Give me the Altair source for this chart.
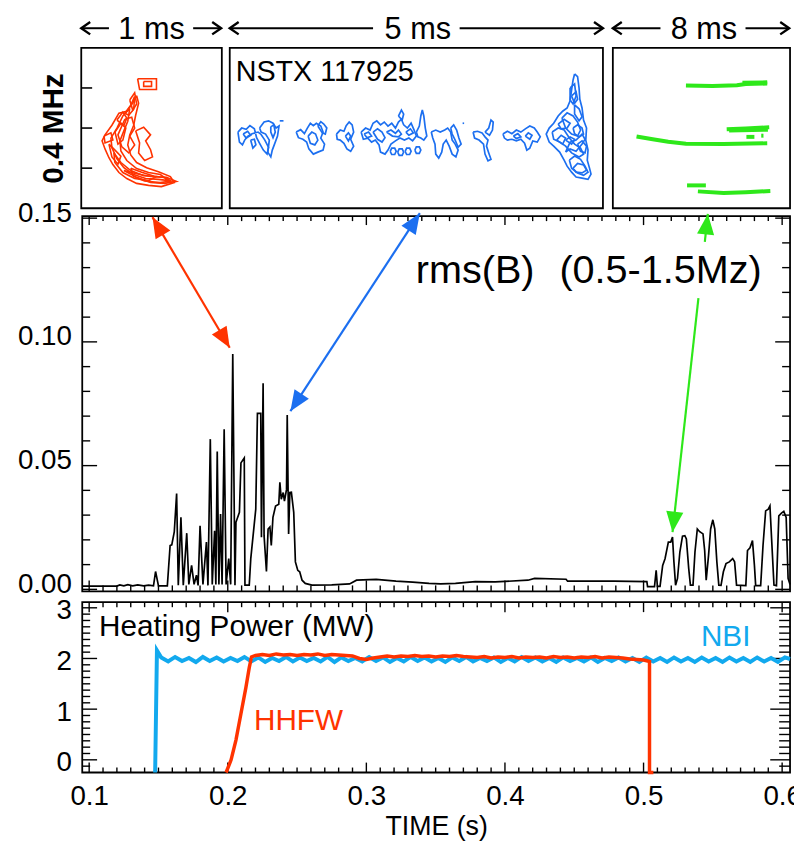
import math
import altair as alt
import pandas as pd

FONT = "Liberation Sans"
RED = "#ff3300"
BLUE = "#1c6ff0"
CYAN = "#12a9ee"
GREEN = "#2ee81a"

# ---------------- rms(B) trace (time s, value) ----------------
RMS_T = [0.0950, 0.1200, 0.1221, 0.1250, 0.1279, 0.1314, 0.1350, 0.1393, 0.1429, 0.1464,
         0.1479, 0.1500, 0.1564, 0.1584, 0.1596, 0.1614, 0.1631, 0.1643, 0.1662, 0.1679,
         0.1704, 0.1719, 0.1739, 0.1757, 0.1774, 0.1786, 0.1800, 0.1821, 0.1846, 0.1857,
         0.1874, 0.1888, 0.1905, 0.1914, 0.1924, 0.1936, 0.1948, 0.1959, 0.1974, 0.1988,
         0.2007, 0.2021, 0.2036, 0.2052, 0.2059, 0.2084, 0.2095, 0.2119, 0.2124, 0.2155,
         0.2166, 0.2202, 0.2214, 0.2238, 0.2243, 0.2255, 0.2262, 0.2279, 0.2291, 0.2304,
         0.2314, 0.2326, 0.2345, 0.2368, 0.2376, 0.2386, 0.2400, 0.2409, 0.2424, 0.2429,
         0.2439, 0.2448, 0.2459, 0.2476, 0.2488, 0.2505, 0.2519, 0.2536, 0.2559, 0.2607,
         0.2750, 0.2879, 0.2929, 0.3071, 0.3214, 0.3334, 0.3452, 0.3536, 0.3643, 0.3786,
         0.3929, 0.4166, 0.4214, 0.4441, 0.4452, 0.4786, 0.5024, 0.5029, 0.5079, 0.5091,
         0.5100, 0.5119, 0.5138, 0.5155, 0.5179, 0.5196, 0.5209, 0.5219, 0.5231, 0.5245,
         0.5262, 0.5281, 0.5298, 0.5309, 0.5326, 0.5338, 0.5357, 0.5371, 0.5388, 0.5405,
         0.5429, 0.5441, 0.5452, 0.5469, 0.5484, 0.5500, 0.5514, 0.5529, 0.5543, 0.5559,
         0.5576, 0.5595, 0.5619, 0.5643, 0.5657, 0.5671, 0.5738, 0.5750, 0.5768, 0.5786,
         0.5800, 0.5809, 0.5845, 0.5862, 0.5881, 0.5900, 0.5912, 0.5924, 0.5941, 0.5959,
         0.5976, 0.5995, 0.6012, 0.6029, 0.6043, 0.6057]
RMS_V = [0.0013, 0.0013, 0.0018, 0.0014, 0.0019, 0.0014, 0.0018, 0.0014, 0.0017, 0.0014,
         0.0072, 0.0014, 0.0014, 0.0177, 0.0180, 0.0232, 0.0387, 0.0017, 0.0291, 0.0017,
         0.0227, 0.0020, 0.0097, 0.0020, 0.0057, 0.0016, 0.0257, 0.0020, 0.0191, 0.0016,
         0.0607, 0.0020, 0.0237, 0.0020, 0.0557, 0.0020, 0.0304, 0.0020, 0.0647, 0.0020,
         0.0124, 0.0020, 0.0951, 0.0017, 0.0271, 0.0311, 0.0511, 0.0531, 0.0017, 0.0017,
         0.0124, 0.0324, 0.0711, 0.0711, 0.0211, 0.0833, 0.0217, 0.0072, 0.0244, 0.0252,
         0.0177, 0.0291, 0.0337, 0.0344, 0.0433, 0.0364, 0.0391, 0.0357, 0.0404, 0.0704,
         0.0224, 0.0391, 0.0392, 0.0311, 0.0111, 0.0077, 0.0071, 0.0037, 0.0024, 0.0017,
         0.0018, 0.0022, 0.0037, 0.0040, 0.0033, 0.0029, 0.0024, 0.0022, 0.0024, 0.0031,
         0.0030, 0.0037, 0.0044, 0.0041, 0.0033, 0.0033, 0.0031, 0.0011, 0.0011, 0.0077,
         0.0012, 0.0012, 0.0097, 0.0124, 0.0191, 0.0191, 0.0211, 0.0112, 0.0017, 0.0044,
         0.0151, 0.0215, 0.0217, 0.0204, 0.0084, 0.0017, 0.0017, 0.0151, 0.0244, 0.0233,
         0.0224, 0.0157, 0.0037, 0.0137, 0.0244, 0.0281, 0.0244, 0.0111, 0.0017, 0.0016,
         0.0071, 0.0104, 0.0111, 0.0124, 0.0111, 0.0017, 0.0015, 0.0157, 0.0168, 0.0197,
         0.0097, 0.0015, 0.0015, 0.0177, 0.0317, 0.0324, 0.0337, 0.0204, 0.0017, 0.0015,
         0.0297, 0.0308, 0.0315, 0.0291, 0.0044, 0.0020]

# ---------------- heating power (MW) ----------------
NBI_T = [0.1476, 0.1489,
         0.152, 0.157, 0.162, 0.167, 0.172, 0.177, 0.182, 0.187, 0.192, 0.197,
         0.202, 0.207, 0.212, 0.217, 0.222, 0.227, 0.232, 0.237, 0.242, 0.247,
         0.252, 0.257, 0.262, 0.267, 0.272, 0.277, 0.282, 0.287, 0.292, 0.297,
         0.302, 0.307, 0.312, 0.317, 0.322, 0.327, 0.332, 0.337, 0.342, 0.347,
         0.352, 0.357, 0.362, 0.367, 0.372, 0.377, 0.382, 0.387, 0.392, 0.397,
         0.402, 0.407, 0.412, 0.417, 0.422, 0.427, 0.432, 0.437, 0.442, 0.447,
         0.452, 0.457, 0.462, 0.467, 0.472, 0.477, 0.482, 0.487, 0.492, 0.497,
         0.502, 0.507, 0.512, 0.517, 0.522, 0.527, 0.532, 0.537, 0.542, 0.547,
         0.552, 0.557, 0.562, 0.567, 0.572, 0.577, 0.582, 0.587, 0.592, 0.597,
         0.602, 0.6057]
NBI_P = [-0.25, 2.16,
         2.02, 1.94, 2.03, 1.95, 2.01, 1.93, 2.03, 1.95, 2.02, 1.94,
         2.01, 1.95, 2.03, 1.94, 2.02, 1.93, 2.01, 1.95, 2.03, 1.94,
         2.02, 1.95, 2.01, 1.94, 2.03, 1.93, 2.02, 1.95, 2.01, 1.94,
         2.03, 1.95, 2.02, 1.93, 2.01, 1.94, 2.03, 1.95, 2.02, 1.94,
         2.01, 1.93, 2.02, 1.95, 2.03, 1.94, 2.01, 1.95, 2.02, 1.93,
         2.01, 1.94, 2.03, 1.95, 2.02, 1.94, 2.01, 1.93, 2.02, 1.95,
         2.01, 1.94, 2.02, 1.93, 2.01, 1.95, 2.02, 1.94, 2.01, 1.93,
         2.02, 1.94, 2.01, 1.93, 2.02, 1.94, 2.01, 1.93, 2.02, 1.94,
         2.01, 1.93, 2.02, 1.94, 2.01, 1.93, 2.02, 1.94, 2.01, 1.93,
         2.02, 1.99]
HHFW_T = [0.1988, 0.2024, 0.2059, 0.2095, 0.2131, 0.2155, 0.2171,
          0.220, 0.225, 0.230, 0.235, 0.240, 0.245, 0.250, 0.255, 0.260, 0.265,
          0.270, 0.275, 0.280, 0.285, 0.290, 0.295, 0.300, 0.305, 0.310, 0.315,
          0.320, 0.325, 0.330, 0.335, 0.340, 0.345, 0.350, 0.355, 0.360, 0.365,
          0.370, 0.375, 0.380, 0.385, 0.390, 0.395, 0.400, 0.405, 0.410, 0.415,
          0.420, 0.425, 0.430, 0.435, 0.440, 0.445, 0.450, 0.455, 0.460, 0.465,
          0.470, 0.475, 0.480, 0.485, 0.490, 0.495, 0.500,
          0.5030, 0.5043, 0.5043, 0.5071]
HHFW_P = [-0.25, 0.00, 0.39, 0.91, 1.43, 1.82, 2.03,
          2.06, 2.08, 2.06, 2.09, 2.07, 2.08, 2.06, 2.08, 2.07, 2.09,
          2.06, 2.08, 2.07, 2.06, 2.05, 2.00, 1.98, 2.01, 2.03, 2.05,
          2.03, 2.05, 2.04, 2.06, 2.04, 2.05, 2.03, 2.05, 2.04, 2.06,
          2.04, 2.03, 2.02, 2.04, 2.01, 2.03, 2.02, 2.04, 2.01, 2.03,
          2.02, 2.03, 2.01, 2.04, 2.02, 2.03, 2.01, 2.03, 2.02, 2.04,
          2.01, 2.03, 2.02, 2.01, 1.99, 1.98, 1.97,
          1.95, 1.94, -0.25, -0.25]

# ---------------- spectrogram contours (ms in window, MHz) ----------------
RED_LOOPS = [
    [(0.394, 0.881), (0.366, 0.862), (0.324, 0.842), (0.268, 0.837), (0.218, 0.807), (0.169, 0.783),
     (0.148, 0.768), (0.169, 0.748), (0.197, 0.726), (0.225, 0.709), (0.268, 0.689), (0.324, 0.674),
     (0.394, 0.662), (0.479, 0.657), (0.570, 0.654), (0.662, 0.664), (0.634, 0.679), (0.549, 0.691),
     (0.465, 0.701), (0.394, 0.714), (0.352, 0.733), (0.331, 0.758), (0.345, 0.783), (0.373, 0.807),
     (0.387, 0.832), (0.408, 0.862), (0.394, 0.881)],
    [(0.345, 0.849), (0.296, 0.830), (0.254, 0.800), (0.211, 0.775), (0.218, 0.751), (0.254, 0.723),
     (0.303, 0.701), (0.373, 0.684), (0.458, 0.674), (0.549, 0.672), (0.620, 0.669), (0.563, 0.684),
     (0.479, 0.689), (0.394, 0.699), (0.324, 0.719), (0.282, 0.743), (0.275, 0.768), (0.303, 0.793),
     (0.331, 0.817), (0.345, 0.849)],
    [(0.387, 0.793), (0.444, 0.802), (0.493, 0.783), (0.458, 0.768), (0.493, 0.746), (0.507, 0.728),
     (0.451, 0.719), (0.408, 0.738), (0.415, 0.763), (0.387, 0.793)],
    [(0.310, 0.822), (0.359, 0.827), (0.380, 0.800), (0.345, 0.780), (0.380, 0.758), (0.338, 0.738),
     (0.289, 0.753), (0.261, 0.783), (0.310, 0.822)],
    [(0.303, 0.694), (0.394, 0.677), (0.493, 0.664), (0.592, 0.662), (0.676, 0.667), (0.606, 0.677),
     (0.493, 0.679), (0.394, 0.686), (0.303, 0.694)],
    [(0.401, 0.923), (0.535, 0.923), (0.535, 0.896), (0.415, 0.896), (0.401, 0.923)],
    [(0.444, 0.916), (0.500, 0.916), (0.500, 0.904), (0.444, 0.904), (0.444, 0.916)],
    [(0.162, 0.780), (0.211, 0.788), (0.225, 0.770), (0.169, 0.763), (0.162, 0.780)],
    [(0.380, 0.879), (0.352, 0.857), (0.310, 0.837), (0.338, 0.832), (0.373, 0.847), (0.380, 0.879)],
    [(0.232, 0.738), (0.282, 0.714), (0.352, 0.694), (0.444, 0.681), (0.535, 0.679), (0.479, 0.669),
     (0.380, 0.674), (0.296, 0.689), (0.239, 0.714), (0.232, 0.738)],
    [(0.240, 0.790), (0.282, 0.812), (0.317, 0.800), (0.296, 0.770), (0.261, 0.760), (0.240, 0.790)],
    [(0.197, 0.760), (0.240, 0.745), (0.282, 0.730), (0.261, 0.710), (0.218, 0.728), (0.197, 0.760)],
    [(0.352, 0.700), (0.430, 0.690), (0.520, 0.680), (0.600, 0.676), (0.640, 0.668), (0.560, 0.664),
     (0.450, 0.668), (0.370, 0.680), (0.352, 0.700)],
    [(0.345, 0.870), (0.380, 0.888), (0.394, 0.860), (0.366, 0.845), (0.345, 0.870)],
    [(0.254, 0.820), (0.296, 0.840), (0.324, 0.825), (0.303, 0.806), (0.254, 0.820)],
]
BLUE_LOOPS = [
    [(0.11, 0.790), (0.16, 0.800), (0.22, 0.797), (0.27, 0.806), (0.33, 0.798), (0.36, 0.776), (0.40, 0.762),
     (0.45, 0.745), (0.50, 0.735), (0.52, 0.752), (0.47, 0.770), (0.42, 0.784), (0.38, 0.790), (0.30, 0.786),
     (0.24, 0.779), (0.20, 0.770), (0.17, 0.758), (0.13, 0.765), (0.11, 0.790)],
    [(0.40, 0.800), (0.46, 0.815), (0.52, 0.818), (0.58, 0.812), (0.62, 0.800), (0.66, 0.805), (0.64, 0.780),
     (0.60, 0.760), (0.57, 0.745), (0.55, 0.728), (0.51, 0.740), (0.53, 0.770), (0.48, 0.785), (0.42, 0.790),
     (0.40, 0.800)],
    [(0.55, 0.803), (0.59, 0.808), (0.61, 0.790), (0.58, 0.776), (0.55, 0.790), (0.55, 0.803)],
    [(0.67, 0.818), (0.72, 0.818)],
    [(0.28, 0.770), (0.33, 0.772), (0.35, 0.758), (0.31, 0.750), (0.28, 0.770)],
    [(0.18, 0.785), (0.24, 0.792), (0.28, 0.782), (0.22, 0.775), (0.18, 0.785)],
    [(0.89, 0.790), (0.95, 0.796), (1.00, 0.786), (1.04, 0.800), (1.08, 0.812), (1.12, 0.806), (1.16, 0.812),
     (1.22, 0.805), (1.25, 0.790), (1.22, 0.775), (1.27, 0.760), (1.25, 0.745), (1.18, 0.740), (1.12, 0.735),
     (1.06, 0.748), (1.03, 0.765), (0.98, 0.772), (0.92, 0.776), (0.89, 0.790)],
    [(1.05, 0.780), (1.10, 0.790), (1.15, 0.785), (1.18, 0.770), (1.14, 0.758), (1.08, 0.762), (1.05, 0.780)],
    [(1.18, 0.805), (1.22, 0.816), (1.26, 0.810), (1.30, 0.800), (1.28, 0.785), (1.24, 0.788), (1.18, 0.805)],
    [(1.43, 0.785), (1.48, 0.795), (1.53, 0.792), (1.56, 0.806), (1.60, 0.815), (1.64, 0.808), (1.66, 0.790),
     (1.62, 0.772), (1.66, 0.755), (1.62, 0.742), (1.57, 0.748), (1.53, 0.762), (1.48, 0.770), (1.44, 0.772),
     (1.43, 0.785)],
    [(1.55, 0.780), (1.59, 0.788), (1.62, 0.780), (1.59, 0.768), (1.55, 0.780)],
    [(1.76, 0.790), (1.82, 0.800), (1.88, 0.795), (1.92, 0.812), (1.97, 0.818), (2.02, 0.808), (2.07, 0.815),
     (2.12, 0.805), (2.17, 0.812), (2.22, 0.800), (2.26, 0.815), (2.30, 0.822), (2.33, 0.808), (2.38, 0.800),
     (2.43, 0.812), (2.47, 0.795), (2.50, 0.780), (2.45, 0.768), (2.40, 0.775), (2.34, 0.770), (2.28, 0.775),
     (2.22, 0.768), (2.16, 0.760), (2.12, 0.745), (2.08, 0.735), (2.02, 0.740), (2.00, 0.758), (1.95, 0.770),
     (1.90, 0.765), (1.85, 0.775), (1.79, 0.772), (1.76, 0.790)],
    [(1.92, 0.790), (1.98, 0.798), (2.04, 0.790), (2.08, 0.776), (2.04, 0.765), (1.98, 0.772), (1.92, 0.790)],
    [(2.10, 0.790), (2.16, 0.795), (2.22, 0.787), (2.26, 0.795), (2.30, 0.785), (2.26, 0.778), (2.18, 0.780),
     (2.10, 0.790)],
    [(1.80, 0.785), (1.86, 0.790), (1.90, 0.780), (1.84, 0.776), (1.80, 0.785)],
    [(2.36, 0.790), (2.42, 0.798), (2.46, 0.788), (2.40, 0.782), (2.36, 0.790)],
    [(2.26, 0.830), (2.30, 0.845), (2.33, 0.835), (2.31, 0.820), (2.26, 0.830)],
    [(2.15, 0.742), (2.17, 0.750), (2.21, 0.750), (2.23, 0.742), (2.21, 0.734), (2.17, 0.734), (2.15, 0.742)],
    [(2.25, 0.740), (2.27, 0.748), (2.31, 0.748), (2.33, 0.740), (2.31, 0.732), (2.27, 0.732), (2.25, 0.740)],
    [(2.35, 0.742), (2.37, 0.750), (2.41, 0.750), (2.43, 0.742), (2.41, 0.734), (2.37, 0.734), (2.35, 0.742)],
    [(2.48, 0.745), (2.50, 0.753), (2.54, 0.753), (2.56, 0.745), (2.54, 0.737), (2.50, 0.737), (2.48, 0.745)],
    [(2.50, 0.790), (2.54, 0.805), (2.56, 0.830), (2.58, 0.845), (2.60, 0.830), (2.62, 0.800), (2.64, 0.780),
     (2.60, 0.770), (2.56, 0.775), (2.52, 0.778), (2.50, 0.790)],
    [(3.12, 0.812), (3.14, 0.812)],
    [(2.70, 0.790), (2.76, 0.795), (2.82, 0.790), (2.88, 0.795), (2.92, 0.800), (2.96, 0.790), (2.98, 0.770),
     (3.02, 0.760), (3.06, 0.745), (3.03, 0.728), (2.98, 0.735), (2.94, 0.755), (2.90, 0.770), (2.86, 0.760),
     (2.84, 0.740), (2.80, 0.725), (2.76, 0.735), (2.75, 0.760), (2.72, 0.775), (2.70, 0.790)],
    [(2.96, 0.800), (3.00, 0.808), (3.04, 0.795), (3.07, 0.775), (3.10, 0.760), (3.06, 0.752), (3.02, 0.770),
     (2.98, 0.785), (2.96, 0.800)],
    [(3.26, 0.790), (3.32, 0.792), (3.38, 0.788), (3.42, 0.778), (3.46, 0.770), (3.44, 0.755), (3.47, 0.738),
     (3.50, 0.722), (3.46, 0.718), (3.42, 0.735), (3.40, 0.760), (3.34, 0.770), (3.28, 0.775), (3.26, 0.790)],
    [(3.42, 0.790), (3.47, 0.800), (3.50, 0.820), (3.53, 0.815), (3.52, 0.795), (3.48, 0.782), (3.42, 0.790)],
    [(3.66, 0.785), (3.72, 0.792), (3.78, 0.786), (3.84, 0.795), (3.90, 0.790), (3.96, 0.798), (4.02, 0.805),
     (4.08, 0.800), (4.12, 0.790), (4.16, 0.778), (4.12, 0.765), (4.06, 0.768), (4.02, 0.750), (3.98, 0.745),
     (3.95, 0.762), (3.90, 0.772), (3.84, 0.768), (3.78, 0.772), (3.72, 0.770), (3.68, 0.775), (3.66, 0.785)],
    [(3.96, 0.780), (4.00, 0.788), (4.05, 0.782), (4.02, 0.772), (3.96, 0.780)],
    [(3.80, 0.780), (3.86, 0.786), (3.90, 0.778), (3.84, 0.774), (3.80, 0.780)],
    [(4.62, 0.935), (4.66, 0.928), (4.68, 0.900), (4.69, 0.872), (4.72, 0.850), (4.74, 0.820), (4.78, 0.800),
     (4.77, 0.770), (4.80, 0.745), (4.79, 0.720), (4.82, 0.700), (4.84, 0.685), (4.80, 0.672), (4.72, 0.675),
     (4.64, 0.678), (4.58, 0.690), (4.52, 0.705), (4.48, 0.720), (4.42, 0.740), (4.34, 0.755), (4.28, 0.765),
     (4.24, 0.785), (4.28, 0.800), (4.34, 0.812), (4.40, 0.830), (4.46, 0.842), (4.52, 0.850), (4.56, 0.868),
     (4.58, 0.895), (4.60, 0.920), (4.62, 0.935)],
    [(4.56, 0.900), (4.62, 0.910), (4.64, 0.880), (4.60, 0.860), (4.56, 0.870), (4.56, 0.900)],
    [(4.45, 0.825), (4.52, 0.838), (4.60, 0.830), (4.66, 0.815), (4.70, 0.795), (4.66, 0.780), (4.58, 0.785),
     (4.50, 0.800), (4.45, 0.825)],
    [(4.32, 0.790), (4.40, 0.800), (4.48, 0.795), (4.55, 0.775), (4.62, 0.760), (4.70, 0.750), (4.74, 0.735),
     (4.68, 0.728), (4.58, 0.738), (4.50, 0.755), (4.42, 0.765), (4.34, 0.772), (4.32, 0.790)],
    [(4.55, 0.720), (4.62, 0.730), (4.70, 0.722), (4.76, 0.705), (4.80, 0.690), (4.74, 0.682), (4.66, 0.688),
     (4.58, 0.700), (4.55, 0.720)],
    [(4.38, 0.770), (4.44, 0.782), (4.50, 0.775), (4.46, 0.760), (4.38, 0.770)],
    [(4.62, 0.858), (4.68, 0.848), (4.72, 0.828), (4.68, 0.818), (4.62, 0.835), (4.62, 0.858)],
    [(4.50, 0.740), (4.56, 0.748), (4.64, 0.742), (4.72, 0.760), (4.76, 0.772), (4.72, 0.785), (4.64, 0.770),
     (4.56, 0.765), (4.50, 0.740)],
    [(4.40, 0.810), (4.48, 0.822), (4.56, 0.812), (4.52, 0.800), (4.44, 0.798), (4.40, 0.810)],
    [(4.60, 0.800), (4.66, 0.808), (4.72, 0.800), (4.74, 0.785), (4.68, 0.778), (4.62, 0.786), (4.60, 0.800)],
    [(4.60, 0.700), (4.66, 0.712), (4.74, 0.708), (4.78, 0.695), (4.72, 0.688), (4.64, 0.690), (4.60, 0.700)],
    [(4.66, 0.760), (4.72, 0.768), (4.78, 0.755), (4.76, 0.738), (4.70, 0.742), (4.66, 0.760)],
    [(4.58, 0.880), (4.64, 0.890), (4.66, 0.872), (4.62, 0.862), (4.58, 0.880)],
    [(4.50, 0.770), (4.56, 0.778), (4.62, 0.772), (4.58, 0.760), (4.50, 0.770)],
]
GREEN_STREAKS = [
    [(3.30, 0.906), (4.50, 0.905), (5.60, 0.907), (6.00, 0.910), (6.97, 0.911)],
    [(5.85, 0.913), (6.97, 0.914)],
    [(5.14, 0.797), (6.00, 0.799), (7.06, 0.802)],
    [(5.25, 0.794), (7.00, 0.796)],
    [(1.07, 0.779), (1.80, 0.772), (2.50, 0.766), (3.30, 0.761), (5.00, 0.760), (6.97, 0.762)],
    [(6.03, 0.778), (6.39, 0.778)],
    [(6.70, 0.781), (6.80, 0.781)],
    [(3.35, 0.657), (4.20, 0.657)],
    [(3.84, 0.642), (5.00, 0.638), (6.00, 0.640), (7.11, 0.643)],
]

# window spans above the insets: label, centre (ms), arrow segments (ms)
WINDOWS = [("1 ms", 0.50, (0.0, 0.197), (0.796, 0.995)),
           ("5 ms", 2.52, (0.0, 1.92), (3.08, 5.0)),
           ("8 ms", 4.11, (0.0, 2.15), (5.99, 7.96))]

# arrows in the rms(B) panel
ARROW_LINES = [(RED, [(0.1457, 0.1504), (0.2014, 0.0976)]),
               (BLUE, [(0.2452, 0.0720), (0.3386, 0.1520)]),
               (GREEN, [(0.5464, 0.1517), (0.5442, 0.1404)]),
               (GREEN, [(0.5396, 0.1177), (0.5209, 0.0231)])]
ARROW_HEADS = [(RED, (0.1457, 0.1504), (0.2014, 0.0976)),
               (RED, (0.2014, 0.0976), (0.1457, 0.1504)),
               (BLUE, (0.3386, 0.1520), (0.2452, 0.0720)),
               (BLUE, (0.2452, 0.0720), (0.3386, 0.1520)),
               (GREEN, (0.5464, 0.1517), (0.5209, 0.0231)),
               (GREEN, (0.5209, 0.0231), (0.5464, 0.1517))]

MAIN_Y_MAJOR = [0.0, 0.05, 0.10, 0.15]
MAIN_Y_MINOR = [0.01, 0.02, 0.03, 0.04, 0.06, 0.07, 0.08, 0.09, 0.11, 0.12, 0.13, 0.14]
PWR_Y_MAJOR = [0, 1, 2, 3]
PWR_Y_MINOR = [k * 0.125 for k in range(-1, 25) if k % 8 != 0]
TIME_MAJOR = [0.1, 0.2, 0.3, 0.4, 0.5, 0.6]
TIME_MINOR = [round(0.10 + 0.01 * k, 2) for k in range(51) if k % 10 != 0]
INSET_F_TICKS = [0.7, 0.8, 0.9]

# ---------------- scales (pixel ranges place the panels) ----------------
TD = [0.095, 0.6057]
VD = [-0.0008, 0.1508]
PD = [-0.25, 3.11]
FD = [0.6, 1.0]
X_MAIN = alt.Scale(domain=TD, range=[0, 715], nice=False, zero=False)
Y_MAIN = alt.Scale(domain=VD, range=[549, 170], nice=False, zero=False)
Y_PWR = alt.Scale(domain=PD, range=[732, 560], nice=False, zero=False)
Y_INS = alt.Scale(domain=FD, range=[162, 0], nice=False, zero=False)
BOX_D = [[0, 1], [0, 5], [0, 8]]
BOX_R = [[-1, 141], [149, 526], [536, 715]]
X_BOX = [alt.Scale(domain=d, range=r, nice=False, zero=False) for d, r in zip(BOX_D, BOX_R)]

PX_T = 715 / (TD[1] - TD[0])
PX_V = 379 / (VD[1] - VD[0])

ONE = pd.DataFrame({"one": [1]})
layers = []


def frame(xs, xd, ys, yd):
    return alt.Chart(ONE).mark_rect(fillOpacity=0, stroke="black", strokeWidth=1.8).encode(
        x=alt.XDatum(xd[0], scale=xs, axis=None), x2=alt.X2Datum(xd[1]),
        y=alt.YDatum(yd[0], scale=ys, axis=None), y2=alt.Y2Datum(yd[1]))


def hticks(vals, xs, x0, ys, length, sw=1.4):
    df = pd.DataFrame({"v": vals})
    return alt.Chart(df).mark_rule(color="black", strokeWidth=sw, x2Offset=length).encode(
        x=alt.XDatum(x0, scale=xs, axis=None), x2=alt.X2Datum(x0),
        y=alt.Y("v:Q", scale=ys, axis=None))


def vticks(vals, xs, ys, y0, length, sw=1.4):
    df = pd.DataFrame({"t": vals})
    return alt.Chart(df).mark_rule(color="black", strokeWidth=sw, y2Offset=length).encode(
        x=alt.X("t:Q", scale=xs, axis=None),
        y=alt.YDatum(y0, scale=ys, axis=None), y2=alt.Y2Datum(y0))


def loops_df(loops):
    rows = []
    for i, lp in enumerate(loops):
        for j, (a, b) in enumerate(lp):
            rows.append({"ms": a, "f": b, "loop": i, "k": j})
    return pd.DataFrame(rows)


def text_layer(label, xs, xv, ys, yv, size, color="black", align="left", weight="normal"):
    return alt.Chart(ONE).mark_text(text=label, font=FONT, fontSize=size, color=color, align=align,
                                    baseline="alphabetic", fontWeight=weight).encode(
        x=alt.XDatum(xv, scale=xs, axis=None), y=alt.YDatum(yv, scale=ys, axis=None))


# frames
layers.append(frame(X_MAIN, TD, Y_MAIN, VD))
layers.append(frame(X_MAIN, TD, Y_PWR, PD))
for xs, d in zip(X_BOX, BOX_D):
    layers.append(frame(xs, d, Y_INS, FD))

# ticks (inward, IDL style)
layers += [
    hticks(MAIN_Y_MAJOR, X_MAIN, TD[0], Y_MAIN, 15), hticks(MAIN_Y_MINOR, X_MAIN, TD[0], Y_MAIN, 8),
    hticks(MAIN_Y_MAJOR, X_MAIN, TD[1], Y_MAIN, -15), hticks(MAIN_Y_MINOR, X_MAIN, TD[1], Y_MAIN, -8),
    vticks(TIME_MAJOR, X_MAIN, Y_MAIN, VD[0], -11), vticks(TIME_MINOR, X_MAIN, Y_MAIN, VD[0], -6),
    vticks(TIME_MAJOR, X_MAIN, Y_MAIN, VD[1], 9), vticks(TIME_MINOR, X_MAIN, Y_MAIN, VD[1], 5),
    hticks(PWR_Y_MAJOR, X_MAIN, TD[0], Y_PWR, 15), hticks(PWR_Y_MINOR, X_MAIN, TD[0], Y_PWR, 8),
    hticks(PWR_Y_MAJOR, X_MAIN, TD[1], Y_PWR, -20), hticks(PWR_Y_MINOR, X_MAIN, TD[1], Y_PWR, -11),
    vticks(TIME_MAJOR, X_MAIN, Y_PWR, PD[0], -10), vticks(TIME_MINOR, X_MAIN, Y_PWR, PD[0], -5),
    vticks(TIME_MAJOR, X_MAIN, Y_PWR, PD[1], 10), vticks(TIME_MINOR, X_MAIN, Y_PWR, PD[1], 5),
    hticks(INSET_F_TICKS, X_BOX[0], 0, Y_INS, 11, sw=1.6),
]

# rms(B) trace with its y axis
rms = pd.DataFrame({"t": RMS_T, "v": RMS_V, "k": range(len(RMS_T))})
layers.append(alt.Chart(rms).mark_line(color="black", strokeWidth=1.7).encode(
    x=alt.X("t:Q", scale=X_MAIN, axis=None),
    y=alt.Y("v:Q", scale=Y_MAIN, axis=alt.Axis(
        orient="left", values=MAIN_Y_MAJOR, format=".2f", title=None, ticks=False, domain=False,
        grid=False, labelFont=FONT, labelFontSize=28, labelPadding=11, labelColor="black",
        labelFlush=False, labelOverlap=False, labelOffset=-5)),
    order="k:Q"))

# heating power
nbi = pd.DataFrame({"t": NBI_T, "p": NBI_P, "k": range(len(NBI_T))})
layers.append(alt.Chart(nbi).mark_line(color=CYAN, strokeWidth=4).encode(
    x=alt.X("t:Q", scale=X_MAIN, axis=alt.Axis(
        orient="bottom", values=TIME_MAJOR, format=".1f", title="TIME (s)", ticks=False, domain=False,
        grid=False, labelFont=FONT, labelFontSize=28, labelPadding=10, labelColor="black",
        labelFlush=False, labelOverlap=False, titleFont=FONT, titleFontSize=27,
        titleFontWeight="normal", titleColor="black", titlePadding=4)),
    y=alt.Y("p:Q", scale=Y_PWR, axis=alt.Axis(
        orient="left", values=PWR_Y_MAJOR, format="d", title=None, ticks=False, domain=False,
        grid=False, labelFont=FONT, labelFontSize=28, labelPadding=11, labelColor="black",
        labelFlush=False, labelOverlap=False, labelOffset=3)),
    order="k:Q"))
hh = pd.DataFrame({"t": HHFW_T, "p": HHFW_P, "k": range(len(HHFW_T))})
layers.append(alt.Chart(hh).mark_line(color=RED, strokeWidth=3.5).encode(
    x=alt.X("t:Q", scale=X_MAIN, axis=None),
    y=alt.Y("p:Q", scale=Y_PWR, axis=None),
    order="k:Q"))

# inset contours
layers.append(alt.Chart(loops_df(RED_LOOPS)).mark_line(color=RED, strokeWidth=1.6).encode(
    x=alt.X("ms:Q", scale=X_BOX[0], axis=None),
    y=alt.Y("f:Q", scale=Y_INS, axis=alt.Axis(
        orient="left", title="0.4 MHz", labels=False, ticks=False, domain=False, grid=False,
        titleFont=FONT, titleFontSize=30, titleFontWeight="bold", titleColor="black",
        titlePadding=14, minExtent=0)),
    detail="loop:N", order="k:Q"))
layers.append(alt.Chart(loops_df(BLUE_LOOPS)).mark_line(color=BLUE, strokeWidth=1.7).encode(
    x=alt.X("ms:Q", scale=X_BOX[1], axis=None), y=alt.Y("f:Q", scale=Y_INS, axis=None),
    detail="loop:N", order="k:Q"))
layers.append(alt.Chart(loops_df(GREEN_STREAKS)).mark_line(color=GREEN, strokeWidth=4).encode(
    x=alt.X("ms:Q", scale=X_BOX[2], axis=None), y=alt.Y("f:Q", scale=Y_INS, axis=None),
    detail="loop:N", order="k:Q"))

# window labels with arrows above the insets
CHEV_L = "M1.6,-1.1 L0,0 L1.6,1.1"
CHEV_R = "M-1.6,-1.1 L0,0 L-1.6,1.1"
F_ARROW = 1.049
F_LABEL = 1.022
for xs, (lab, cen, segl, segr) in zip(X_BOX, WINDOWS):
    seg = pd.DataFrame({"a": [segl[0], segr[0]], "b": [segl[1], segr[1]]})
    layers.append(alt.Chart(seg).mark_rule(color="black", strokeWidth=2).encode(
        x=alt.X("a:Q", scale=xs, axis=None), x2="b:Q",
        y=alt.YDatum(F_ARROW, scale=Y_INS, axis=None)))
    layers.append(alt.Chart(ONE).mark_point(shape=CHEV_L, filled=False, size=127, strokeWidth=2.4,
                                            color="black", opacity=1).encode(
        x=alt.XDatum(segl[0], scale=xs, axis=None), y=alt.YDatum(F_ARROW, scale=Y_INS, axis=None)))
    layers.append(alt.Chart(ONE).mark_point(shape=CHEV_R, filled=False, size=127, strokeWidth=2.4,
                                            color="black", opacity=1).encode(
        x=alt.XDatum(segr[1], scale=xs, axis=None), y=alt.YDatum(F_ARROW, scale=Y_INS, axis=None)))
    layers.append(text_layer(lab, xs, cen, Y_INS, F_LABEL, 31, align="center"))

layers.append(text_layer("NSTX 117925", X_BOX[1], 0.08, Y_INS, 0.9185, 29))

# coloured arrows
for col, pts in ARROW_LINES:
    df = pd.DataFrame({"t": [p[0] for p in pts], "v": [p[1] for p in pts], "k": range(len(pts))})
    layers.append(alt.Chart(df).mark_line(color=col, strokeWidth=2.2).encode(
        x=alt.X("t:Q", scale=X_MAIN, axis=None), y=alt.Y("v:Q", scale=Y_MAIN, axis=None), order="k:Q"))

HEAD = "M0,0 L1,2.4 L-1,2.4 Z"
for col in (RED, BLUE, GREEN):
    rows = []
    for c, tip, tail in ARROW_HEADS:
        if c != col:
            continue
        dx = (tip[0] - tail[0]) * PX_T
        dy = -(tip[1] - tail[1]) * PX_V
        rows.append({"t": tip[0], "v": tip[1], "ang": math.degrees(math.atan2(dx, -dy)) % 360})
    layers.append(alt.Chart(pd.DataFrame(rows)).mark_point(
        shape=HEAD, filled=True, size=300, opacity=1, color=col, strokeWidth=0).encode(
        x=alt.X("t:Q", scale=X_MAIN, axis=None), y=alt.Y("v:Q", scale=Y_MAIN, axis=None),
        angle=alt.Angle("ang:Q", scale=None)))

# panel annotations
layers.append(text_layer("rms(B)", X_MAIN, 0.3357, Y_MAIN, 0.1236, 40))
layers.append(text_layer("(0.5-1.5Mz)", X_MAIN, 0.4393, Y_MAIN, 0.1236, 40))
layers.append(text_layer("Heating Power (MW)", X_MAIN, 0.1071, Y_PWR, 2.44, 30))
layers.append(text_layer("HHFW", X_MAIN, 0.2189, Y_PWR, 0.59, 30, color=RED))
layers.append(text_layer("NBI", X_MAIN, 0.5414, Y_PWR, 2.25, 30, color=CYAN))

chart = alt.layer(*layers).resolve_scale(x="independent", y="independent").properties(
    width=715, height=732,
    autosize=alt.AutoSizeParams(type="none"),
    padding={"left": 75, "top": 36, "right": 4, "bottom": 72},
    background="white",
).configure_view(stroke=None)

chart.save("out.html", embed_options={"renderer": "svg", "actions": False})
